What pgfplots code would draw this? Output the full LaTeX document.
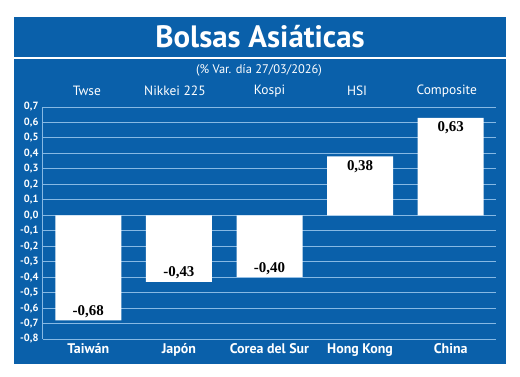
\documentclass[border=0pt]{standalone}
\usepackage{pgfplots}
\pgfplotsset{compat=1.18}
\usepackage{fontspec}
\setmainfont{PT Sans}
\newfontfamily\serifb{Liberation Serif}
\definecolor{panelblue}{RGB}{10,96,170}
\definecolor{gridblue}{RGB}{135,185,228}
\begin{document}
\begin{tikzpicture}
\fill[white] (0bp,0bp) rectangle (520bp,377bp);
\fill[panelblue] (14bp,13bp) rectangle (506bp,360bp);
\draw[white, line width=1.8bp] (14bp,319bp) -- (506bp,319bp);
\node[white, font=\fontsize{31}{31}\selectfont\bfseries] at (260bp,340bp) {Bolsas Asiáticas};
\node[white, font=\fontsize{12.5}{13}\selectfont] at (259bp,307bp) {(\% Var. día 27/03/2026)};
\begin{axis}[
  at={(43bp,38bp)}, anchor=south west,
  scale only axis, width=453bp, height=232bp,
  xmin=-0.5, xmax=4.5, ymin=-0.8, ymax=0.7,
  axis lines=left,
  axis line style={gridblue, line width=1bp, -},
  ymajorgrids,
  grid style={gridblue, line width=0.9bp},
  major tick length=0pt,
  xtick={0,1,2,3,4},
  xticklabels={Taiwán, Japón, Corea del Sur, Hong Kong, China},
  xticklabel style={white, font=\fontsize{14}{15}\selectfont\bfseries, yshift=-1bp},
  ytick={-0.8,-0.7,-0.6,-0.5,-0.4,-0.3,-0.2,-0.1,0,0.1,0.2,0.3,0.4,0.5,0.6,0.7},
  yticklabels={{-0,8},{-0,7},{-0,6},{-0,5},{-0,4},{-0,3},{-0,2},{-0,1},{0,0},{0,1},{0,2},{0,3},{0,4},{0,5},{0,6},{0,7}},
  yticklabel style={white, font=\fontsize{10.5}{11}\selectfont\bfseries, xshift=-1bp},
  clip=false,
]
\addplot[ybar, fill=white, draw=none, bar width=66bp, bar shift=0pt,
  nodes near coords, point meta=explicit symbolic,
  every node near coord/.append style={anchor=south, inner sep=2.5bp, black, font=\serifb\fontsize{15}{16}\selectfont\bfseries}]
  coordinates {(0,-0.68)[-0,68] (1,-0.43)[-0,43] (2,-0.40)[-0,40]};
\addplot[ybar, fill=white, draw=none, bar width=66bp, bar shift=0pt,
  nodes near coords, point meta=explicit symbolic,
  every node near coord/.append style={anchor=north, inner sep=3.5bp, black, font=\serifb\fontsize{15}{16}\selectfont\bfseries}]
  coordinates {(3,0.38)[0,38] (4,0.63)[0,63]};
\node[white, font=\fontsize{13.5}{14}\selectfont] at (axis cs:-0.016,0.7) [yshift=16bp] {Twse};
\node[white, font=\fontsize{13.5}{14}\selectfont] at (axis cs:0.956,0.7) [yshift=16bp] {Nikkei 225};
\node[white, font=\fontsize{13.5}{14}\selectfont] at (axis cs:2,0.7) [yshift=16bp] {Kospi};
\node[white, font=\fontsize{13.5}{14}\selectfont] at (axis cs:2.967,0.7) [yshift=16bp] {HSI};
\node[white, font=\fontsize{13.5}{14}\selectfont] at (axis cs:3.956,0.7) [yshift=16bp] {Composite};
\end{axis}
\end{tikzpicture}
\end{document}
